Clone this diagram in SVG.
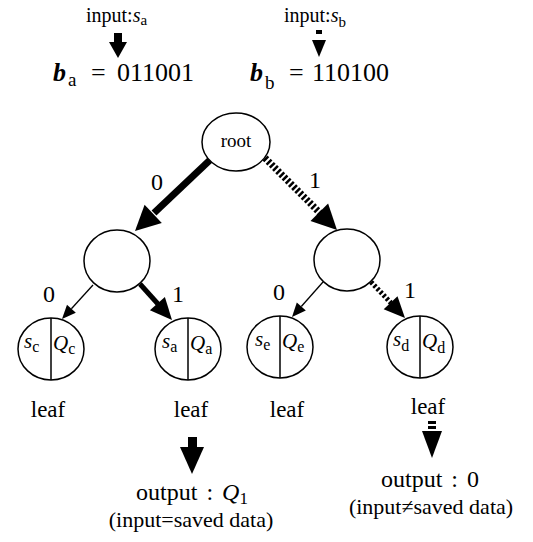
<svg xmlns="http://www.w3.org/2000/svg" width="533" height="542" viewBox="0 0 533 542">
<style>
.t{font-family:"Liberation Serif","Times New Roman",serif;fill:#000}
.i{font-style:italic}
.bi{font-style:italic;font-weight:bold}
.nd{fill:#fff;stroke:#000;stroke-width:1.5}
.dv{stroke:#000;stroke-width:1.5}
.thin{stroke:#000;stroke-width:1.3;fill:none}
.thick{stroke:#000;stroke-width:7;fill:none}
.thick2{stroke:#000;stroke-width:5;fill:none}
.dash{stroke:#000;stroke-width:7;fill:none;stroke-dasharray:2.5 2}
.dash2{stroke:#000;stroke-width:5;fill:none;stroke-dasharray:2.5 2}
.ah{fill:#000}
.el{font-size:24px}
.lf{font-size:23px}
</style>
<rect width="533" height="542" fill="#fff"/>

<g id="inputs">
  <text class="t" x="86" y="22" font-size="20">input:<tspan class="i">s</tspan><tspan font-size="15" dy="3">a</tspan></text>
  <rect x="114" y="33" width="8" height="9" class="ah"/>
  <polygon points="109,42 127,42 118,58" class="ah"/>
  <text class="t" y="81" font-size="26"><tspan x="53" class="bi">b</tspan><tspan x="68" font-size="19" dy="5">a</tspan><tspan x="91" dy="-5">=</tspan><tspan x="117">011001</tspan></text>

  <text class="t" x="284" y="22" font-size="20">input:<tspan class="i">s</tspan><tspan font-size="15" dy="5">b</tspan></text>
  <rect x="316" y="30" width="6" height="4" class="ah"/>
  <polygon points="312,40 326,40 319,57" class="ah"/>
  <text class="t" y="81" font-size="26"><tspan x="250" class="bi">b</tspan><tspan x="265" font-size="19" dy="8">b</tspan><tspan x="289" dy="-8">=</tspan><tspan x="312">110100</tspan></text>
</g>

<g id="connectors">
  <line x1="210" y1="160" x2="154" y2="213" class="thick"/>
  <polygon points="135,231 144.6,204.7 161.8,222.9" class="ah"/>
  <line x1="265" y1="158" x2="320" y2="213" class="dash"/>
  <polygon points="337,230 310.5,221.1 328.1,203.5" class="ah"/>
  <line x1="93" y1="285" x2="71.4" y2="308.7" class="thin"/>
  <polygon points="62,319 67,304.7 75.8,312.7" class="ah"/>
  <line x1="140" y1="284" x2="158" y2="304" class="thick2"/>
  <polygon points="172,320 149.9,310.2 164.9,297" class="ah"/>
  <line x1="323" y1="282" x2="301.3" y2="306.5" class="thin"/>
  <polygon points="292,317 296.8,302.5 305.8,310.5" class="ah"/>
  <line x1="371" y1="282" x2="391" y2="303" class="dash2"/>
  <polygon points="405,318 383.7,309.2 397.5,296.2" class="ah"/>
  <text class="t el" x="157" y="190" text-anchor="middle">0</text>
  <text class="t el" x="315" y="188" text-anchor="middle">1</text>
  <text class="t el" x="49" y="302" text-anchor="middle">0</text>
  <text class="t el" x="178" y="302" text-anchor="middle">1</text>
  <text class="t el" x="279" y="300" text-anchor="middle">0</text>
  <text class="t el" x="410" y="298" text-anchor="middle">1</text>
</g>

<g id="root">
  <ellipse cx="236" cy="142" rx="34" ry="29" class="nd"/>
  <text class="t" x="236" y="147" font-size="19" text-anchor="middle">root</text>
</g>
<g id="node0">
  <ellipse cx="117" cy="261" rx="33" ry="31" class="nd"/>
</g>
<g id="node1">
  <ellipse cx="347" cy="260" rx="33" ry="31" class="nd"/>
</g>

<g id="leaf-c">
  <ellipse cx="51" cy="349" rx="33" ry="31" class="nd"/>
  <line x1="51" y1="318" x2="51" y2="380" class="dv"/>
  <text class="t" x="24" y="348" font-size="21"><tspan class="i">s</tspan><tspan font-size="16" dy="4">c</tspan></text>
  <text class="t" x="53" y="350" font-size="21"><tspan class="i">Q</tspan><tspan font-size="16" dy="4">c</tspan></text>
  <text class="t lf" x="48" y="417" text-anchor="middle">leaf</text>
</g>
<g id="leaf-a">
  <ellipse cx="188" cy="349" rx="33" ry="31" class="nd"/>
  <line x1="188" y1="318" x2="188" y2="380" class="dv"/>
  <text class="t" x="162" y="348" font-size="21"><tspan class="i">s</tspan><tspan font-size="16" dy="4">a</tspan></text>
  <text class="t" x="190" y="350" font-size="21"><tspan class="i">Q</tspan><tspan font-size="16" dy="4">a</tspan></text>
  <text class="t lf" x="191" y="417" text-anchor="middle">leaf</text>
</g>
<g id="leaf-e">
  <ellipse cx="280" cy="347" rx="33" ry="31" class="nd"/>
  <line x1="280" y1="316" x2="280" y2="378" class="dv"/>
  <text class="t" x="255" y="346" font-size="21"><tspan class="i">s</tspan><tspan font-size="16" dy="4">e</tspan></text>
  <text class="t" x="282" y="348" font-size="21"><tspan class="i">Q</tspan><tspan font-size="16" dy="4">e</tspan></text>
  <text class="t lf" x="287" y="417" text-anchor="middle">leaf</text>
</g>
<g id="leaf-d">
  <ellipse cx="420" cy="347" rx="33" ry="31" class="nd"/>
  <line x1="420" y1="316" x2="420" y2="378" class="dv"/>
  <text class="t" x="393" y="346" font-size="21"><tspan class="i">s</tspan><tspan font-size="16" dy="5">d</tspan></text>
  <text class="t" x="422" y="348" font-size="21"><tspan class="i">Q</tspan><tspan font-size="16" dy="5">d</tspan></text>
  <text class="t lf" x="428" y="414" text-anchor="middle">leaf</text>
</g>

<g id="outputs">
  <rect x="188" y="437" width="9" height="10" class="ah"/>
  <polygon points="180,447 204,447 192,474" class="ah"/>
  <text class="t" x="192" y="500" font-size="24" text-anchor="middle" word-spacing="3">output : <tspan class="i">Q</tspan><tspan font-size="17" dy="4">1</tspan></text>
  <text class="t" x="191" y="527" font-size="22" text-anchor="middle">(input=saved data)</text>

  <rect x="428" y="421" width="8" height="3" class="ah"/>
  <rect x="428" y="426" width="8" height="3" class="ah"/>
  <polygon points="422,431 442,431 432,458" class="ah"/>
  <text class="t" x="430" y="487" font-size="24" text-anchor="middle" word-spacing="3">output : 0</text>
  <text class="t" x="431" y="514" font-size="22" text-anchor="middle">(input≠saved data)</text>
</g>
</svg>
